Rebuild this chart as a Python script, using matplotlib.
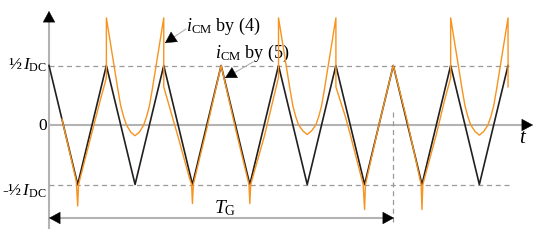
import matplotlib
matplotlib.use("Agg")
import matplotlib.pyplot as plt
from matplotlib.patches import FancyArrowPatch

plt.rcParams["font.family"] = ["Liberation Serif", "DejaVu Serif"]
plt.rcParams["mathtext.fontset"] = "custom"
plt.rcParams["mathtext.rm"] = "Liberation Serif"
plt.rcParams["mathtext.it"] = "Liberation Serif:italic"

# time in half-periods of the triangle carrier, current in units of I_DC
BLACK_T = [0, 1, 2, 3, 4, 5, 6, 7, 8, 9, 10, 11, 12, 13, 14, 15, 16]
BLACK_V = [0.5, -0.5, 0.5, -0.5, 0.5, -0.5, 0.5, -0.5, 0.5,
           -0.5, 0.5, -0.5, 0.5, -0.5, 0.5, -0.5, 0.5]

ORANGE_T = [
    0.45, 0.95, 1.0, 1.03, 1.5, 1.8, 1.96, 2.0, 2.0,
    2.1, 2.2, 2.3, 2.4, 2.5, 2.6, 2.7, 2.85, 3.0, 3.15, 3.3, 3.4, 3.5, 3.6, 3.7, 3.8, 3.9, 4.0,
    4.0, 4.5, 4.9, 4.97, 5.0, 5.03, 5.5, 6.0, 6.5, 6.97, 7.0, 7.03, 7.5, 7.7, 7.96, 8.0, 8.0,
    8.1, 8.2, 8.3, 8.4, 8.5, 8.6, 8.7, 8.85, 9.0, 9.15, 9.3, 9.4, 9.5, 9.6, 9.7, 9.8, 9.9, 10.0,
    10.0, 10.33, 10.5, 10.95, 11.0, 11.03, 11.5, 12.0, 12.5, 12.97, 13.0, 13.03, 13.5, 13.8,
    13.96, 14.0, 14.0,
    14.1, 14.2, 14.3, 14.4, 14.5, 14.6, 14.7, 14.85, 15.0, 15.15, 15.3, 15.4, 15.5, 15.6,
    15.7, 15.8, 15.9, 16.0, 16.0,
]
ORANGE_V = [
    0.05, -0.47, -0.68, -0.5, -0.06, 0.22, 0.36, 0.4, 0.9,
    0.75, 0.6, 0.45, 0.3, 0.16, 0.07, 0.0, -0.06, -0.09, -0.06, 0.0, 0.07, 0.16, 0.3, 0.45, 0.6, 0.75, 0.9,
    0.32, -0.1, -0.45, -0.5, -0.66, -0.5, -0.03, 0.5, -0.03, -0.5, -0.66, -0.5, -0.1, 0.1, 0.36, 0.4, 0.9,
    0.75, 0.6, 0.45, 0.3, 0.16, 0.07, 0.0, -0.05, -0.08, -0.05, 0.0, 0.07, 0.16, 0.3, 0.45, 0.6, 0.75, 0.9,
    0.32, 0.07, -0.08, -0.5, -0.71, -0.5, 0.0, 0.5, 0.02, -0.5, -0.71, -0.5, -0.08, 0.22,
    0.36, 0.4, 0.9,
    0.75, 0.6, 0.45, 0.3, 0.16, 0.07, 0.0, -0.055, -0.085, -0.055, 0.0, 0.07, 0.16, 0.3,
    0.45, 0.6, 0.75, 0.9, 0.32,
]

Y_LABELS = ["½$\\,I_{\\rm DC}$", "0", "-½$\\,I_{\\rm DC}$"]
T_G_END = 12

# pixel layout of the original figure
X0, XS = 49.0, 28.69
Y0, YS = 125.0, 119.0


def px(x):
    return (x - X0) / XS


def py(y):
    return (Y0 - y) / YS


def head(ax, tail, tip):
    ax.add_patch(FancyArrowPatch(
        (px(tail[0]), py(tail[1])), (px(tip[0]), py(tip[1])),
        arrowstyle="-|>,head_length=0.55,head_width=0.3", mutation_scale=14,
        color="black", lw=0.3, shrinkA=0, shrinkB=0, zorder=6))


fig = plt.figure(figsize=(5.5, 2.4), dpi=100)
ax = fig.add_axes([0, 0, 1, 1])
ax.set_xlim(px(0), px(550))
ax.set_ylim(py(240), py(0))
ax.axis("off")

grey = "#b3b3b3"
# axes
ax.plot([px(49), px(49)], [py(228), py(20)], color=grey, lw=1.5, zorder=1)
head(ax, (49, 21), (49, 11))
ax.plot([px(49), px(525)], [0, 0], color=grey, lw=1.5, zorder=1)
head(ax, (523, 125), (533, 125))

# reference levels
dash = dict(color="#9a9a9a", lw=0.9, dashes=(4, 3), zorder=1)
ax.plot([0, px(512)], [0.5, 0.5], **dash)
ax.plot([0, px(512)], [-0.5, -0.5], **dash)
ax.plot([T_G_END, T_G_END], [py(112), py(223)], **dash)

# T_G span
ax.plot([px(58), px(385)], [py(218), py(218)], color=grey, lw=1.5, zorder=1)
head(ax, (60, 218), (49, 218))
head(ax, (383, 218), (394, 218))
ax.text(px(214), py(213), "$T_{\\rm G}$", fontsize=14, ha="left", va="baseline")

# curves
ax.plot(BLACK_T, BLACK_V, color="#231f20", lw=1.2, zorder=3)
ax.plot(ORANGE_T, ORANGE_V, color="#f7931e", lw=1.0, zorder=4)

# y labels
for lab, yy in zip(Y_LABELS, [70, 130, 196]):
    ax.text(px(47), py(yy), lab, fontsize=12.5, ha="right", va="baseline")
ax.text(px(519), py(143), "$t$", fontsize=15, ha="left", va="baseline")

# annotations
ax.text(px(186), py(31), "$i_{\\rm CM}$ by (4)", fontsize=13, ha="left", va="baseline")
ax.plot([px(186), px(174)], [py(29), py(37)], color=grey, lw=0.8)
head(ax, (174, 37), (165, 43))
ax.text(px(215), py(58), "$i_{\\rm CM}$ by (5)", fontsize=13, ha="left", va="baseline")
ax.plot([px(253), px(234)], [py(62), py(73)], color=grey, lw=0.8)
head(ax, (234, 73), (225, 78))

fig.savefig("out.png", dpi=100)
